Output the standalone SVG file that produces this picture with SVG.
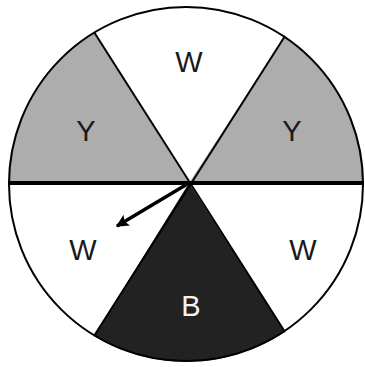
<svg xmlns="http://www.w3.org/2000/svg" width="365" height="367" viewBox="0 0 365 367">
<style>
.lbl{font-family:"Liberation Sans",Arial,sans-serif;font-size:29px;text-anchor:middle;fill:#1a1a1a}
.spoke{stroke:#000;stroke-width:2;fill:none}
</style>
<defs>
<marker id="ah" viewBox="0 0 10 10" refX="9" refY="5" markerWidth="4" markerHeight="3.6" orient="auto" markerUnits="strokeWidth">
<path d="M0,0 L10,5 L0,10 L2,5 Z" fill="#000"/>
</marker>
</defs>
<rect width="365" height="367" fill="#fff"/>
<g id="sector-y-left">
<path d="M189,183 L8,183 A178,178 0 0 1 94,32 Z" fill="#adadad"/>
<text class="lbl" x="86" y="141">Y</text>
</g>
<g id="sector-w-top">
<text class="lbl" x="189" y="72">W</text>
</g>
<g id="sector-y-right">
<path d="M189,183 L285,36 A178,178 0 0 1 364,183 Z" fill="#adadad"/>
<text class="lbl" x="292" y="141">Y</text>
</g>
<g id="sector-w-right">
<text class="lbl" x="303" y="260">W</text>
</g>
<g id="sector-b">
<path d="M189,183 L285,332 A178,178 0 0 1 94,336 Z" fill="#222"/>
<text class="lbl" x="191" y="316" style="fill:#f4f4f4">B</text>
</g>
<g id="sector-w-left">
<text class="lbl" x="83" y="260">W</text>
</g>
<g id="connectors">
<circle cx="186" cy="184" r="177" class="spoke"/>
<line x1="94" y1="32" x2="285" y2="332" class="spoke"/>
<line x1="285" y1="36" x2="94" y2="336" class="spoke"/>
<line x1="8" y1="183" x2="364" y2="183" stroke="#000" stroke-width="4"/>
<line x1="189" y1="183" x2="117" y2="226" stroke="#000" stroke-width="3.5" marker-end="url(#ah)"/>
</g>
</svg>
